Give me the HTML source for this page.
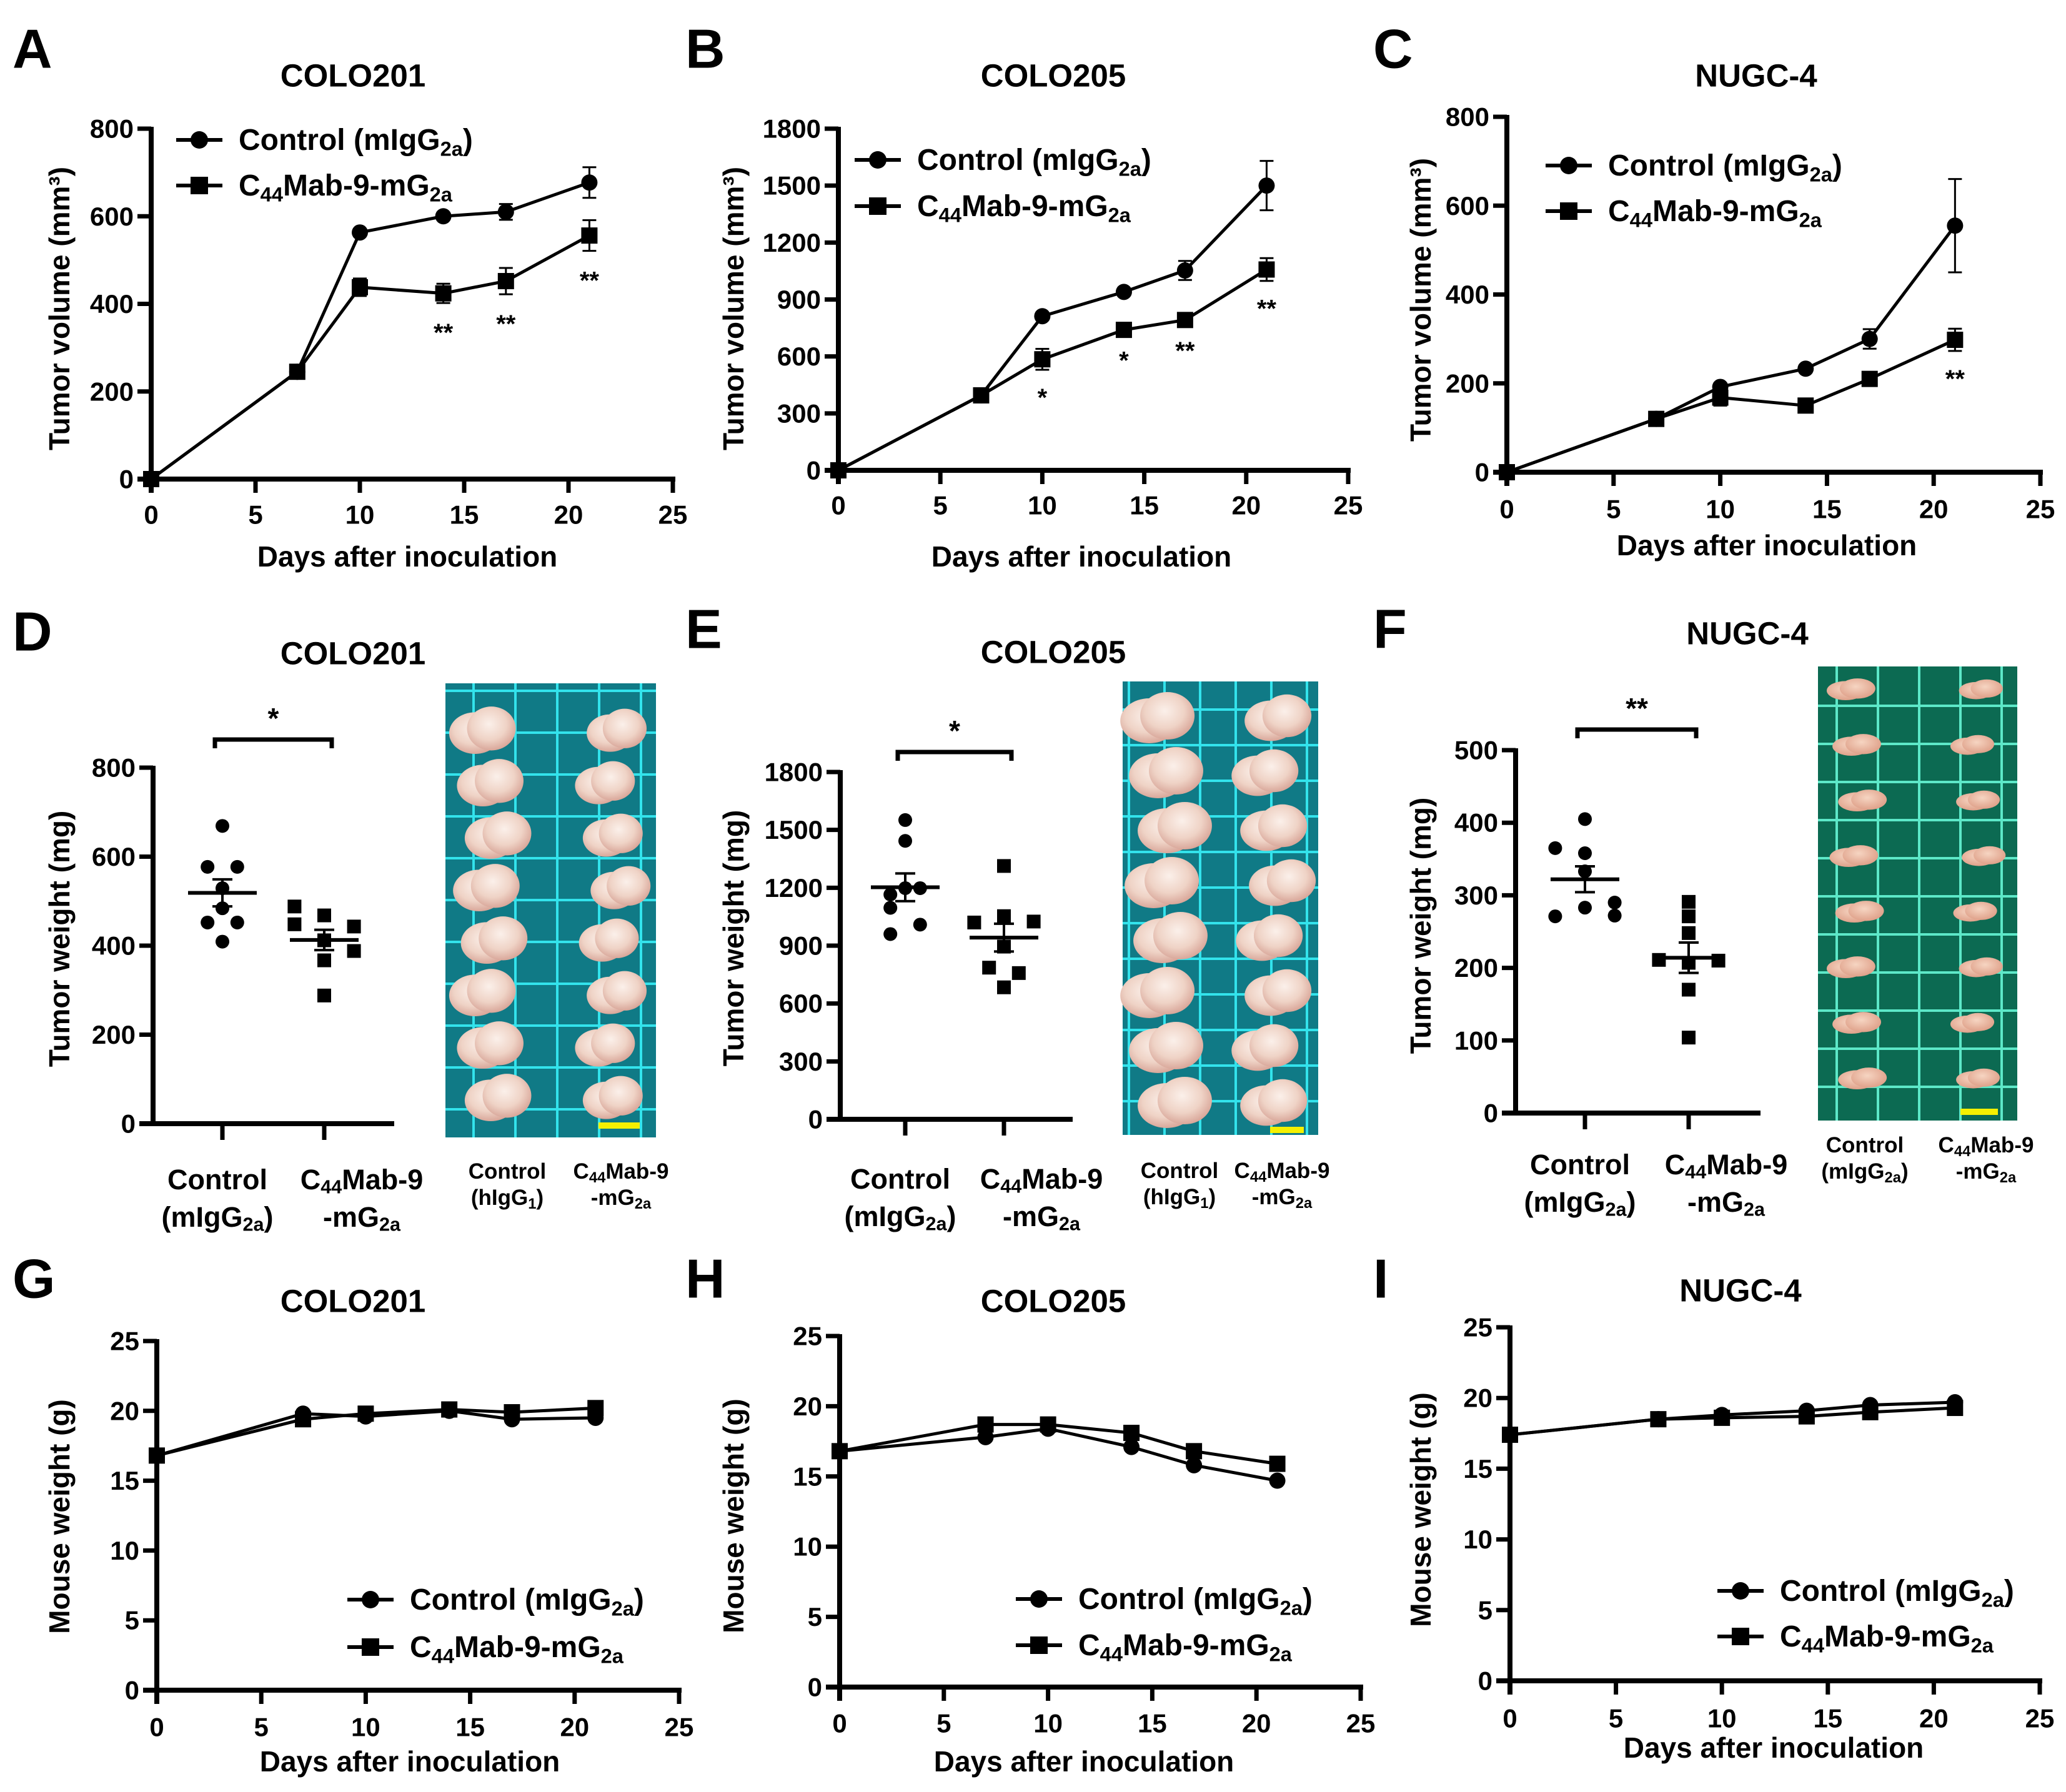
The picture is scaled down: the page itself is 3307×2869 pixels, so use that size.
<!DOCTYPE html>
<html><head><meta charset="utf-8"><style>
html,body{margin:0;padding:0;background:#fff;}
svg{display:block;font-family:"Liberation Sans",Arial,sans-serif;font-weight:bold;}
</style></head><body>
<svg id="fig" width="3307" height="2869" viewBox="0 0 3307 2869" xmlns="http://www.w3.org/2000/svg">
<defs>
<radialGradient id="tum" cx="45%" cy="40%" r="60%"><stop offset="0" stop-color="#fbf0ea"/><stop offset="0.6" stop-color="#efd3c6"/><stop offset="1" stop-color="#d9a79a"/></radialGradient>
<radialGradient id="tumF" cx="45%" cy="40%" r="60%"><stop offset="0" stop-color="#f6d5c2"/><stop offset="1" stop-color="#dfa18a"/></radialGradient>
</defs>
</svg>
<script>
// ---------- data ----------
const days=[0,7,10,14,17,21];
const xTicks=[0,5,10,15,20,25];
// A COLO201 tumor volume
const aCtrl=[0,245,563,600,610,677];
const aCtrlErr=[0,10,8,8,18,35];
const aMab=[0,245,438,424,452,556];
const aMabErr=[0,10,20,22,30,35];
const aYTicks=[0,200,400,600,800];
const aStars=["","","","**","**","**"];
// B COLO205
const bCtrl=[0,395,812,940,1053,1500];
const bCtrlErr=[0,10,10,10,50,130];
const bMab=[0,395,585,740,792,1058];
const bMabErr=[0,10,55,15,15,60];
const bYTicks=[0,300,600,900,1200,1500,1800];
const bStars=["","","*","*","**","**"];
// C NUGC-4
const cCtrl=[0,120,192,233,300,555];
const cCtrlErr=[0,5,8,8,22,105];
const cMab=[0,120,168,150,210,298];
const cMabErr=[0,5,18,8,10,25];
const cYTicks=[0,200,400,600,800];
const cStars=["","","","","","**"];
// D/E/F tumor weight
const dCtrl=[669,577,577,529,484,452,452,409];
const dMab=[488,468,448,443,412,388,367,288];
const dYTicks=[0,200,400,600,800];
const eCtrl=[1551,1443,1198,1165,1198,1096,1009,960];
const eMab=[1313,1020,1053,1025,895,786,758,684];
const eYTicks=[0,300,600,900,1200,1500,1800];
const fCtrl=[405,365,358,333,271,283,290,272];
const fMab=[291,271,248,211,207,210,170,104];
const fYTicks=[0,100,200,300,400,500];
// G/H/I mouse weight
const gCtrl=[16.8,19.8,19.6,20.0,19.4,19.5];
const gMab=[16.8,19.4,19.8,20.1,19.9,20.2];
const hCtrl=[16.8,17.8,18.4,17.1,15.8,14.7];
const hMab=[16.8,18.7,18.7,18.1,16.8,15.9];
const iCtrl=[17.4,18.5,18.8,19.1,19.5,19.7];
const iMab=[17.4,18.5,18.6,18.7,19.0,19.3];
const wYTicks=[0,5,10,15,20,25];

const NS="http://www.w3.org/2000/svg";
const svg=document.getElementById('fig');
function el(tag,attrs,parent){const e=document.createElementNS(NS,tag);for(const k in attrs)e.setAttribute(k,attrs[k]);(parent||svg).appendChild(e);return e;}
function txt(s,x,y,size,parent,anchor){const t=el('text',{x:x,y:y,'font-size':size,'text-anchor':anchor||'middle','dominant-baseline':'central'},parent);t.textContent=s;return t;}
function rich(parts,x,y,size,parent,anchor){
  const t=el('text',{x:x,y:y,'font-size':size,'text-anchor':anchor||'start','dominant-baseline':'central'},parent);
  let shift=0;
  parts.forEach(p=>{const sp=el('tspan',{},t);
    if(p.sub){sp.setAttribute('font-size',size*0.68);sp.setAttribute('dy',(size*0.28)-shift);shift=size*0.28;}
    else{ if(shift){sp.setAttribute('dy',-shift);shift=0;} }
    sp.textContent=p.t;});
  return t;}
const CTRL_LBL=[{t:'Control (mIgG'},{t:'2a',sub:1},{t:')'}];
const MAB_LBL=[{t:'C'},{t:'44',sub:1},{t:'Mab-9-mG'},{t:'2a',sub:1}];

function panelLetter(s,x,y){const t=txt(s,x,y,88,null,'start');}
function title(s,x,y,id){const t=txt(s,x,y,51);}

function marker(g,type,x,y,s){
  if(type==='c') return el('circle',{cx:x,cy:y,r:s,fill:'#000'},g);
  return el('rect',{x:x-s,y:y-s,width:2*s,height:2*s,fill:'#000'},g);
}

function lineChart(o){
  const g=el('g',{});
  
  
  const ymax=o.yTicks[o.yTicks.length-1];
  const X=d=>o.ax+(d/25)*(o.x25-o.ax);
  const Y=v=>o.y0-(v/ymax)*(o.y0-o.yTop);
  const ax=el('g',{},g);
  
  
  el('line',{x1:o.ax,y1:o.yTop-3,x2:o.ax,y2:o.y0+22,stroke:'#000','stroke-width':8},ax);
  el('line',{x1:o.ax-22,y1:o.y0,x2:o.x25+4,y2:o.y0,stroke:'#000','stroke-width':8},ax);
  o.yTicks.forEach(v=>{el('line',{x1:o.ax-22,y1:Y(v),x2:o.ax,y2:Y(v),stroke:'#000','stroke-width':7},ax);
    const t=txt(String(v),o.ax-28,Y(v),o.tickSize||42,ax,'end');
    
    });
  xTicks.forEach(d=>{el('line',{x1:X(d),y1:o.y0,x2:X(d),y2:o.y0+22,stroke:'#000','stroke-width':7},ax);
    const t=txt(String(d),X(d),o.xtY,o.tickSize||42,ax);
    
    });
  const xt=txt('Days after inoculation',o.xTitleX,o.xTitleY,46,g);
  
  
  const yt=el('text',{x:0,y:0,'font-size':46,'text-anchor':'middle','dominant-baseline':'central',transform:`translate(${o.yTitleX},${o.yTitleY}) rotate(-90)`},g);
  yt.textContent=o.yTitle;
  
  
  o.series.forEach(s=>{
    const sg=el('g',{},g);
    
    
    el('polyline',{points:days.map((d,i)=>X(d)+','+Y(s.v[i])).join(' '),fill:'none',stroke:'#000','stroke-width':5,'stroke-linejoin':'round'},sg);
    days.forEach((d,i)=>{
      if(s.e&&s.e[i]>0){const x=X(d);
        el('line',{x1:x,y1:Y(s.v[i]+s.e[i]),x2:x,y2:Y(s.v[i]-s.e[i]),stroke:'#000','stroke-width':3},sg);
        el('line',{x1:x-11,y1:Y(s.v[i]+s.e[i]),x2:x+11,y2:Y(s.v[i]+s.e[i]),stroke:'#000','stroke-width':3},sg);
        el('line',{x1:x-11,y1:Y(s.v[i]-s.e[i]),x2:x+11,y2:Y(s.v[i]-s.e[i]),stroke:'#000','stroke-width':3},sg);}
      const m=marker(sg,s.type,X(d),Y(s.v[i]),13);
      
      
    });
  });
  if(o.stars){o.stars.forEach((s,i)=>{if(!s)return;
    const v=o.series[1].v[i]-(o.series[1].e?o.series[1].e[i]:0);
    const t=txt(s,X(days[i]),Y(v)+o.starOff,40,g);
    
    });}
  const lg=el('g',{},g);
  
  
  [[CTRL_LBL,'c',o.leg[1]],[MAB_LBL,'s',o.leg[2]]].forEach(([lbl,tp,y],k)=>{
    const eg=el('g',{},lg);
    
    
    el('line',{x1:o.leg[0]-37,y1:y,x2:o.leg[0]+37,y2:y,stroke:'#000','stroke-width':6},eg);
    marker(eg,tp,o.leg[0],y,14);
    rich(lbl,o.leg[0]+63,y,48,eg);
  });
}

function scatter(o){
  const g=el('g',{});
  
  
  const ymax=o.yTicks[o.yTicks.length-1];
  const Y=v=>o.y0-(v/ymax)*(o.y0-o.yTop);
  const ax=el('g',{},g);
  
  
  el('line',{x1:o.ax,y1:o.yTop-3,x2:o.ax,y2:o.y0+4,stroke:'#000','stroke-width':8},ax);
  el('line',{x1:o.ax-22,y1:o.y0,x2:o.xEnd,y2:o.y0,stroke:'#000','stroke-width':8},ax);
  o.yTicks.forEach(v=>{el('line',{x1:o.ax-22,y1:Y(v),x2:o.ax,y2:Y(v),stroke:'#000','stroke-width':7},ax);
    const t=txt(String(v),o.ax-28,Y(v),42,ax,'end');
    
    });
  o.cats.forEach(cx=>el('line',{x1:cx,y1:o.y0,x2:cx,y2:o.y0+26,stroke:'#000','stroke-width':7},ax));
  const yt=el('text',{x:0,y:0,'font-size':46,'text-anchor':'middle','dominant-baseline':'central',transform:`translate(${o.yTitleX},${o.yTitleY}) rotate(-90)`},g);
  yt.textContent='Tumor weight (mg)';
  
  
  const dx=o.spread;
  [[o.ctrl,'c',o.cats[0],o.jc],[o.mab,'s',o.cats[1],o.jm]].forEach(([vals,tp,cx,jit],k)=>{
    const sg=el('g',{},g);
    
    
    vals.forEach((v,i)=>{const m=marker(sg,tp,cx+jit[i]*dx,Y(v),11);
      
      });
    const mean=vals.reduce((a,b)=>a+b,0)/vals.length;
    const sd=Math.sqrt(vals.reduce((a,b)=>a+(b-mean)*(b-mean),0)/(vals.length-1));
    const sem=sd/Math.sqrt(vals.length);
    el('line',{x1:cx-55,y1:Y(mean),x2:cx+55,y2:Y(mean),stroke:'#000','stroke-width':6},sg);
    el('line',{x1:cx,y1:Y(mean+sem),x2:cx,y2:Y(mean-sem),stroke:'#000','stroke-width':4},sg);
    el('line',{x1:cx-16,y1:Y(mean+sem),x2:cx+16,y2:Y(mean+sem),stroke:'#000','stroke-width':4},sg);
    el('line',{x1:cx-16,y1:Y(mean-sem),x2:cx+16,y2:Y(mean-sem),stroke:'#000','stroke-width':4},sg);
  });
  const br=el('path',{d:`M${o.cats[0]-12},${o.brY+14} V${o.brY} H${o.cats[1]+12} V${o.brY+14}`,fill:'none',stroke:'#000','stroke-width':7},g);
  
  
  const st=txt(o.star,(o.cats[0]+o.cats[1])/2,o.brY-34,46,g);
  
  
  const l1=rich([{t:'Control'}],o.cats[0]-8,o.lblY,45,g,'middle');
  
  
  const l2=rich([{t:'(mIgG'},{t:'2a',sub:1},{t:')'}],o.cats[0]-8,o.lblY+60,45,g,'middle');
  
  
  const l3=rich([{t:'C'},{t:'44',sub:1},{t:'Mab-9'}],o.cats[1]+60,o.lblY,45,g,'middle');
  
  
  const l4=rich([{t:'-mG'},{t:'2a',sub:1}],o.cats[1]+60,o.lblY+60,45,g,'middle');
  
  
}

function photo(o){
  const g=el('g',{});
  
  
  el('rect',{x:o.x,y:o.y,width:o.w,height:o.h,fill:o.bg},g);
  for(let x=o.x+o.gx0;x<o.x+o.w;x+=o.gs) el('line',{x1:x,y1:o.y,x2:x,y2:o.y+o.h,stroke:o.grid,'stroke-width':4},g);
  for(let y=o.y+o.gy0;y<o.y+o.h;y+=o.gsy) el('line',{x1:o.x,y1:y,x2:o.x+o.w,y2:y,stroke:o.grid,'stroke-width':4},g);
  for(let i=0;i<8;i++){
    const cy=o.r0+i*o.rs;
    [o.c1,o.c2].forEach((cx,k)=>{
      const s=k?0.9:1;
      const off=((i*7+k*3)%5-2)*o.tw*0.12;
      const t=el('g',{},g);
      
      
      el('ellipse',{cx:cx-o.tw*0.25*s+off,cy:cy+o.th*0.1,rx:o.tw*0.8*s,ry:o.th*0.9*s,fill:o.fill},t);
      el('ellipse',{cx:cx+o.tw*0.25*s+off,cy:cy-o.th*0.1,rx:o.tw*0.75*s,ry:o.th*0.95*s,fill:o.fill},t);
    });
  }
  el('rect',{x:o.bar[0],y:o.bar[1]-5,width:o.bar[2],height:10,fill:'#f5f000'},g);
  const a=rich(o.l1a,o.c1+o.lx1,o.lblY,35,g,'middle');
  
  
  const b=rich(o.l1b,o.c1+o.lx1,o.lblY+42,35,g,'middle');
  
  
  const c=rich([{t:'C'},{t:'44',sub:1},{t:'Mab-9'}],o.c2+12,o.lblY,35,g,'middle');
  
  
  const d=rich([{t:'-mG'},{t:'2a',sub:1}],o.c2+12,o.lblY+42,35,g,'middle');
  
  
}

// ---------- row 1 ----------
panelLetter('A',20,78); title('COLO201',565,121,'title-a');
lineChart({name:'chart-a-tumor-volume',ax:242,x25:1077,y0:767,yTop:206,yTicks:aYTicks,xtY:824,xTitleX:652,xTitleY:891,yTitleX:95,yTitleY:494,yTitle:'Tumor volume (mm³)',
  series:[{name:'series-control',type:'c',v:aCtrl,e:aCtrlErr},{name:'series-c44mab9',type:'s',v:aMab,e:aMabErr}],stars:aStars,starOff:48,leg:[319,224,297]});
panelLetter('B',1097,78); title('COLO205',1686,121,'title-b');
lineChart({name:'chart-b-tumor-volume',ax:1342,x25:2158,y0:753,yTop:206,yTicks:bYTicks,xtY:809,xTitleX:1731,xTitleY:891,yTitleX:1174,yTitleY:494,yTitle:'Tumor volume (mm³)',
  series:[{name:'series-control',type:'c',v:bCtrl,e:bCtrlErr},{name:'series-c44mab9',type:'s',v:bMab,e:bMabErr}],stars:bStars,starOff:45,leg:[1405,256,330]});
panelLetter('C',2198,78); title('NUGC-4',2811,121,'title-c');
lineChart({name:'chart-c-tumor-volume',ax:2412,x25:3266,y0:756,yTop:187,yTicks:cYTicks,xtY:815,xTitleX:2828,xTitleY:873,yTitleX:2274,yTitleY:480,yTitle:'Tumor volume (mm³)',
  series:[{name:'series-control',type:'c',v:cCtrl,e:cCtrlErr},{name:'series-c44mab9',type:'s',v:cMab,e:cMabErr}],stars:cStars,starOff:45,leg:[2511,265,338]});

// ---------- row 2 ----------
panelLetter('D',20,1011); title('COLO201',565,1046,'title-d');
scatter({name:'chart-d-tumor-weight',ax:245,xEnd:631,y0:1799,yTop:1229,yTicks:dYTicks,cats:[356,519],ctrl:dCtrl,mab:dMab,
  jc:[0,-0.7,0.7,0,0,-0.7,0.7,0],jm:[-1.4,0,-1.4,1.4,0,1.4,0,0],spread:34,yTitleX:95,yTitleY:1503,brY:1184,star:'*',lblY:1888});
photo({name:'photo-d',x:713,y:1094,w:337,h:727,bg:'#107a86',grid:'#33e3ec',gx0:45,gs:67,gy0:12,gsy:67,r0:1170,rs:84,c1:786,c2:982,tw:52,th:37,fill:'url(#tum)',bar:[958,1802,66],
  l1a:[{t:'Control'}],l1b:[{t:'(hIgG'},{t:'1',sub:1},{t:')'}],lblY:1875,lx1:26});
panelLetter('E',1097,1007); title('COLO205',1686,1044,'title-e');
scatter({name:'chart-e-tumor-weight',ax:1345,xEnd:1717,y0:1792,yTop:1236,yTicks:eYTicks,cats:[1449,1607],ctrl:eCtrl,mab:eMab,
  jc:[0,0,0,-0.7,0.7,-0.7,0.7,-0.7],jm:[0,-1.4,0,1.4,0,-0.7,0.7,0],spread:34,yTitleX:1174,yTitleY:1502,brY:1204,star:'*',lblY:1887});
photo({name:'photo-e',x:1797,y:1091,w:313,h:726,bg:'#107a86',grid:'#33e3ec',gx0:10,gs:57,gy0:45,gsy:57,r0:1150,rs:88,c1:1868,c2:2040,tw:58,th:40,fill:'url(#tum)',bar:[2033,1809,54],
  l1a:[{t:'Control'}],l1b:[{t:'(hIgG'},{t:'1',sub:1},{t:')'}],lblY:1874,lx1:20});
panelLetter('F',2198,1007); title('NUGC-4',2797,1014,'title-f');
scatter({name:'chart-f-tumor-weight',ax:2426,xEnd:2818,y0:1782,yTop:1201,yTicks:fYTicks,cats:[2537,2703],ctrl:fCtrl,mab:fMab,
  jc:[0,-1.4,0,0,-1.4,0,1.4,1.4],jm:[0,0,0,-1.4,0,1.4,0,0],spread:34,yTitleX:2274,yTitleY:1482,brY:1168,star:'**',lblY:1864});
photo({name:'photo-f',x:2910,y:1067,w:319,h:727,bg:'#0c6a52',grid:'#5de8c8',gx0:30,gs:66,gy0:63,gsy:61,r0:1104,rs:89,c1:2973,c2:3167,tw:38,th:17,fill:'url(#tumF)',bar:[3138,1780,60],
  l1a:[{t:'Control'}],l1b:[{t:'(mIgG'},{t:'2a',sub:1},{t:')'}],lblY:1833,lx1:12});

// ---------- row 3 ----------
panelLetter('G',20,2047); title('COLO201',565,2083,'title-g');
lineChart({name:'chart-g-mouse-weight',ax:251,x25:1087,y0:2706,yTop:2147,yTicks:wYTicks,xtY:2765,xTitleX:656,xTitleY:2820,yTitleX:95,yTitleY:2428,yTitle:'Mouse weight (g)',
  series:[{name:'series-control',type:'c',v:gCtrl},{name:'series-c44mab9',type:'s',v:gMab}],leg:[593,2561,2637]});
panelLetter('H',1097,2047); title('COLO205',1686,2083,'title-h');
lineChart({name:'chart-h-mouse-weight',ax:1344,x25:2178,y0:2701,yTop:2139,yTicks:wYTicks,xtY:2759,xTitleX:1735,xTitleY:2820,yTitleX:1174,yTitleY:2427,yTitle:'Mouse weight (g)',
  series:[{name:'series-control',type:'c',v:hCtrl},{name:'series-c44mab9',type:'s',v:hMab}],leg:[1663,2560,2634]});
panelLetter('I',2198,2047); title('NUGC-4',2786,2066,'title-i');
lineChart({name:'chart-i-mouse-weight',ax:2417,x25:3265,y0:2691,yTop:2125,yTicks:wYTicks,xtY:2751,xTitleX:2839,xTitleY:2798,yTitleX:2274,yTitleY:2417,yTitle:'Mouse weight (g)',
  series:[{name:'series-control',type:'c',v:iCtrl},{name:'series-c44mab9',type:'s',v:iMab}],leg:[2786,2547,2620]});
</script>
</body></html>
